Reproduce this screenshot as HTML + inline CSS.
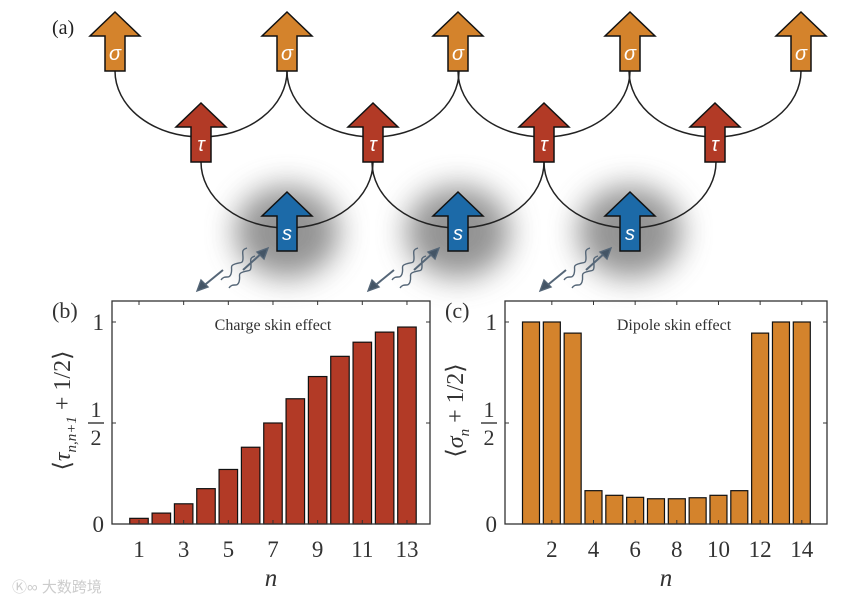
<!DOCTYPE html>
<html><head><meta charset="utf-8"><style>
html,body{margin:0;padding:0;background:#fff;}
svg{display:block;font-family:"Liberation Serif",serif;}
</style></head><body>
<svg id="fig" width="858" height="603" viewBox="0 0 858 603">
<defs>
<filter id="blur" x="-50%" y="-50%" width="200%" height="200%"><feGaussianBlur stdDeviation="15"/></filter>
</defs>
<g id="diagram"></g>
<g id="chartB"></g>
<g id="chartC"></g>
<text x="12" y="592" font-family="Liberation Sans, Noto Sans CJK SC, sans-serif" font-size="15" fill="#ccc">Ⓚ∞ 大数跨境</text>
</svg>
<script>
// Chart data
const chargeN = [1,2,3,4,5,6,7,8,9,10,11,12,13];
const chargeValues = [0.028,0.054,0.10,0.175,0.27,0.38,0.50,0.62,0.73,0.83,0.90,0.95,0.975];
const chargeTicks = [1,3,5,7,9,11,13];
const dipoleN = [1,2,3,4,5,6,7,8,9,10,11,12,13,14];
const dipoleValues = [1.0,1.0,0.945,0.165,0.142,0.132,0.125,0.125,0.13,0.142,0.165,0.945,1.0,1.0];
const dipoleTicks = [2,4,6,8,10,12,14];

const NS="http://www.w3.org/2000/svg";
function mk(parent,tag,attrs,text){const e=document.createElementNS(NS,tag);for(const k in attrs)e.setAttribute(k,attrs[k]);if(text!==undefined)e.textContent=text;parent.appendChild(e);return e;}

// ---------- Diagram ----------
const dg=document.getElementById('diagram');
const sigX=[115,287,458,630,801], tauX=[201,373,544,715], sX=[287,458,630];
sX.forEach(x=>{const sh=mk(dg,'ellipse',{cx:x,cy:232,rx:52,ry:46,fill:'#666',opacity:0.7,filter:'url(#blur)'});

});
tauX.forEach(x=>{const a=mk(dg,'path',{d:`M${x-86},71 A86,66 0 0,0 ${x+86},71`,fill:'none',stroke:'#222','stroke-width':1.5});

});
sX.forEach(x=>{const a=mk(dg,'path',{d:`M${x-86},162 A86,66 0 0,0 ${x+86},162`,fill:'none',stroke:'#222','stroke-width':1.5});

});
function arrow(x,top,color,label,name){
  const g=mk(dg,'g',{});
  
  
  mk(g,'path',{d:`M${x},${top} L${x+25},${top+24} L${x+10},${top+24} L${x+10},${top+59} L${x-10},${top+59} L${x-10},${top+24} L${x-25},${top+24} Z`,fill:color,stroke:'#111','stroke-width':1.5,'stroke-linejoin':'miter'});
  mk(g,'text',{x:x,y:top+48,'text-anchor':'middle','font-size':20,'font-style':'italic',fill:'#fff','font-family':'Liberation Sans, sans-serif'},label);
}
sigX.forEach(x=>arrow(x,12,'#d4832c','σ','sigma-arrow'));
tauX.forEach(x=>arrow(x,103,'#b23a26','τ','tau-arrow'));
sX.forEach(x=>arrow(x,192,'#1c6aa8','s','s-arrow'));
sX.forEach(x=>{
  const bx=x-50;
  const g=mk(dg,'g',{stroke:'#556677','stroke-width':1.4,fill:'none'});
  
  
  mk(g,'path',{d:`M${bx-16},${280} c4,-6 8,0 10,-6 s-2,-8 4,-10 s8,0 8,-6 s-2,-8 4,-10`});
  mk(g,'path',{d:`M${bx-8},${288} c4,-6 8,0 10,-6 s-2,-8 4,-10 s8,0 8,-6 s-2,-8 4,-10`});
  mk(g,'path',{d:`M${bx-36},${288} L${bx-14},${270}`,'stroke-width':2});
  mk(g,'path',{d:`M${bx-40},${291} l4,-11 l7,7 z`,fill:'#445566'});
  mk(g,'path',{d:`M${bx+6},${270} L${bx+26},${252}`,'stroke-width':2});
  mk(g,'path',{d:`M${bx+31},${248} l-4,11 l-7,-7 z`,fill:'#445566'});
});
mk(dg,'text',{x:52,y:34,'font-size':20,fill:'#222'},'(a)');

// ---------- Bar charts ----------
function barChart(gid,cfg){
  const g=document.getElementById(gid);
  const L=cfg.left,R=cfg.right,T=301,B=524;
  const xs=n=>cfg.x0+(n-cfg.n0)*cfg.dx;
  const ys=v=>B-v*202;
  cfg.ns.forEach((n,i)=>{
    const r=mk(g,'rect',{x:xs(n)-cfg.bw/2,y:ys(cfg.vals[i]),width:cfg.bw,height:B-ys(cfg.vals[i]),fill:cfg.color,stroke:'#111','stroke-width':1.2});
    
    
  });
  mk(g,'rect',{x:L,y:T,width:R-L,height:B-T,fill:'none',stroke:'#333','stroke-width':1.3});
  cfg.ticks.forEach(t=>{
    const x=xs(t);
    mk(g,'line',{x1:x,y1:B,x2:x,y2:B-4,stroke:'#333'});
    mk(g,'line',{x1:x,y1:T,x2:x,y2:T+4,stroke:'#333'});
    const tl=mk(g,'text',{x:x,y:B+33,'text-anchor':'middle','font-size':23,fill:'#333'},String(t));
    
    
  });
  [0,0.5,1].forEach(v=>{mk(g,'line',{x1:L,y1:ys(v),x2:L+4,y2:ys(v),stroke:'#333'});mk(g,'line',{x1:R,y1:ys(v),x2:R-4,y2:ys(v),stroke:'#333'});});
  mk(g,'text',{x:L-8,y:ys(0)+8,'text-anchor':'end','font-size':23,fill:'#333'},'0');
  mk(g,'text',{x:L-8,y:ys(1)+8,'text-anchor':'end','font-size':23,fill:'#333'},'1');
  mk(g,'text',{x:L-16,y:ys(0.5)-6,'text-anchor':'middle','font-size':22,fill:'#333'},'1');
  mk(g,'line',{x1:L-24,y1:ys(0.5),x2:L-8,y2:ys(0.5),stroke:'#333','stroke-width':1.4});
  mk(g,'text',{x:L-16,y:ys(0.5)+22,'text-anchor':'middle','font-size':22,fill:'#333'},'2');
  const yt=mk(g,'text',{x:0,y:0,'text-anchor':'middle','font-size':24,fill:'#333',transform:`translate(${L-42},${(T+B)/2-2}) rotate(-90)`});
  yt.innerHTML=cfg.ytitle;
  
  
  const xt=mk(g,'text',{x:(L+R)/2,y:586,'text-anchor':'middle','font-size':25,'font-style':'italic',fill:'#333'},'n');
  
  
  const ti=mk(g,'text',{x:cfg.titleX,y:330,'text-anchor':'middle','font-size':16,fill:'#333'},cfg.title);
  
  
  mk(g,'text',{x:L-60,y:318,'font-size':22,fill:'#333'},cfg.panel);
}
barChart('chartB',{left:112,right:430,x0:139,n0:1,dx:22.33,bw:18.5,ns:chargeN,vals:chargeValues,ticks:chargeTicks,color:'#b23a26',
  ytitle:'⟨<tspan font-style="italic">τ</tspan><tspan font-size="15" font-style="italic" dy="6">n,n+1</tspan><tspan dy="-6"> + 1/2⟩</tspan>',title:'Charge skin effect',titleX:273,panel:'(b)'});
barChart('chartC',{left:505,right:827,x0:531,n0:1,dx:20.83,bw:17,ns:dipoleN,vals:dipoleValues,ticks:dipoleTicks,color:'#d4832c',
  ytitle:'⟨<tspan font-style="italic">σ</tspan><tspan font-size="15" font-style="italic" dy="6">n</tspan><tspan dy="-6"> + 1/2⟩</tspan>',title:'Dipole skin effect',titleX:674,panel:'(c)'});
</script>
</body></html>
